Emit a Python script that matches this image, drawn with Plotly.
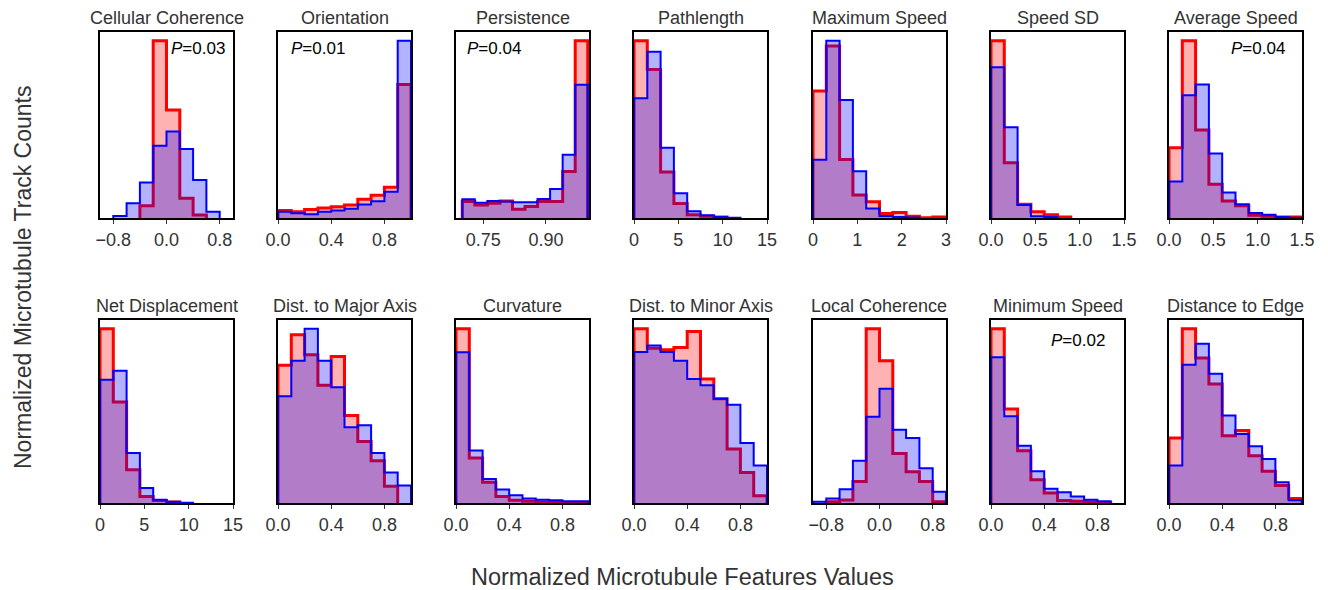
import plotly.graph_objects as go

# ---------------- data ----------------
TITLES = ["Cellular Coherence", "Orientation", "Persistence", "Pathlength",
          "Maximum Speed", "Speed SD", "Average Speed",
          "Net Displacement", "Dist. to Major Axis", "Curvature",
          "Dist. to Minor Axis", "Local Coherence", "Minimum Speed",
          "Distance to Edge"]

BIN_LO = [-1.0, 0.0, 0.70, 0.0, 0.0, 0.0, 0.0,
          0.0, 0.0, 0.0, 0.0, -1.0, 0.0, 0.0]
BIN_WIDTH = [0.2, 0.1, 0.03, 1.5, 0.3, 0.15, 0.15,
             1.5, 0.1, 0.1, 0.1, 0.2, 0.1, 0.1]
X_RANGE = [[-1, 1], [0, 1], [0.685, 1.003], [0, 15], [0, 3], [0, 1.5], [0, 1.5],
           [0, 15], [0, 1], [0, 1], [0, 1], [-1, 1], [0, 1], [0, 1]]
TICK_VALS = [[-0.8, 0, 0.8], [0, 0.4, 0.8], [0.75, 0.90], [0, 5, 10, 15],
             [0, 1, 2, 3], [0, 0.5, 1.0, 1.5], [0, 0.5, 1.0, 1.5],
             [0, 5, 10, 15], [0, 0.4, 0.8], [0, 0.4, 0.8], [0, 0.4, 0.8],
             [-0.8, 0, 0.8], [0, 0.4, 0.8], [0, 0.4, 0.8]]
TICK_TEXT = [["\u22120.8", "0.0", "0.8"], ["0.0", "0.4", "0.8"], ["0.75", "0.90"],
             ["0", "5", "10", "15"], ["0", "1", "2", "3"],
             ["0.0", "0.5", "1.0", "1.5"], ["0.0", "0.5", "1.0", "1.5"],
             ["0", "5", "10", "15"], ["0.0", "0.4", "0.8"], ["0.0", "0.4", "0.8"],
             ["0.0", "0.4", "0.8"], ["\u22120.8", "0.0", "0.8"],
             ["0.0", "0.4", "0.8"], ["0.0", "0.4", "0.8"]]

red_cellular_coherence = [0, 0, 0, 0.065, 0.949, 0.578, 0.106, 0.016, 0, 0]
blue_cellular_coherence = [0, 0.011, 0.079, 0.19, 0.387, 0.464, 0.369, 0.204, 0.034, 0]
red_orientation = [0.04, 0.033, 0.045, 0.053, 0.06, 0.07, 0.1, 0.122, 0.165, 0.715]
blue_orientation = [0.033, 0.025, 0.02, 0.033, 0.04, 0.05, 0.072, 0.09, 0.14, 0.949]
red_persistence = [0.088, 0.07, 0.079, 0.091, 0.047, 0.061, 0.088, 0.088, 0.249, 0.949]
blue_persistence = [0.1, 0.082, 0.091, 0.088, 0.084, 0.084, 0.102, 0.156, 0.339, 0.714]
red_pathlength = [0.949, 0.795, 0.247, 0.078, 0.018, 0.009, 0.005, 0, 0, 0]
blue_pathlength = [0.641, 0.891, 0.377, 0.132, 0.036, 0.015, 0.006, 0.002, 0, 0]
red_max_speed = [0.68, 0.922, 0.314, 0.123, 0.087, 0.024, 0.029, 0.009, 0.002, 0.005]
blue_max_speed = [0.312, 0.949, 0.632, 0.25, 0.051, 0.011, 0.005, 0.003, 0, 0]
red_speed_sd = [0.949, 0.296, 0.073, 0.033, 0.018, 0.005, 0, 0, 0, 0]
blue_speed_sd = [0.808, 0.486, 0.069, 0.009, 0.005, 0, 0, 0, 0, 0]
red_avg_speed = [0.377, 0.949, 0.472, 0.181, 0.091, 0.065, 0.015, 0.009, 0.005, 0.005]
blue_avg_speed = [0.196, 0.658, 0.715, 0.345, 0.136, 0.074, 0.027, 0.018, 0.006, 0.002]
red_net_disp = [0.951, 0.551, 0.182, 0.036, 0.013, 0.005, 0, 0, 0, 0]
blue_net_disp = [0.673, 0.722, 0.273, 0.082, 0.018, 0.007, 0.002, 0, 0, 0]
red_major_axis = [0.751, 0.918, 0.809, 0.642, 0.8, 0.478, 0.336, 0.231, 0.091, 0]
blue_major_axis = [0.582, 0.776, 0.951, 0.776, 0.631, 0.413, 0.424, 0.273, 0.167, 0.095]
red_curvature = [0.951, 0.245, 0.113, 0.036, 0.015, 0.009, 0.005, 0.004, 0.002, 0.001]
blue_curvature = [0.822, 0.287, 0.131, 0.073, 0.042, 0.025, 0.018, 0.015, 0.009, 0.009]
red_minor_axis = [0.951, 0.845, 0.836, 0.849, 0.936, 0.676, 0.569, 0.295, 0.167, 0.04]
blue_minor_axis = [0.824, 0.86, 0.824, 0.776, 0.676, 0.642, 0.569, 0.536, 0.327, 0.205]
red_local_coh = [0, 0.007, 0.016, 0.117, 0.951, 0.776, 0.27, 0.171, 0.117, 0.007]
blue_local_coh = [0.007, 0.025, 0.075, 0.23, 0.47, 0.623, 0.40, 0.354, 0.19, 0.062]
red_min_speed = [0.951, 0.513, 0.285, 0.127, 0.055, 0.013, 0.009, 0.005, 0.002, 0]
blue_min_speed = [0.795, 0.473, 0.313, 0.173, 0.078, 0.058, 0.036, 0.018, 0.009, 0]
red_dist_edge = [0.355, 0.951, 0.791, 0.649, 0.367, 0.395, 0.258, 0.173, 0.095, 0.024]
blue_dist_edge = [0.204, 0.755, 0.869, 0.705, 0.478, 0.376, 0.309, 0.24, 0.113, 0.015]

RED = [red_cellular_coherence, red_orientation, red_persistence, red_pathlength,
       red_max_speed, red_speed_sd, red_avg_speed, red_net_disp, red_major_axis,
       red_curvature, red_minor_axis, red_local_coh, red_min_speed, red_dist_edge]
BLUE = [blue_cellular_coherence, blue_orientation, blue_persistence, blue_pathlength,
        blue_max_speed, blue_speed_sd, blue_avg_speed, blue_net_disp, blue_major_axis,
        blue_curvature, blue_minor_axis, blue_local_coh, blue_min_speed, blue_dist_edge]

P_TEXT = {0: "0.03", 1: "0.01", 2: "0.04", 6: "0.04", 12: "0.02"}

# ---------------- layout constants ----------------
W, H = 1328, 590
PANEL_LEFT = [100, 278, 456, 634, 813, 991, 1169]
PANEL_W = 133
ROW_TOP = [32, 320]
ROW_BOT = [218, 503]
# P-label placement (x in axis-domain fraction, anchor, y domain)
P_POS = {0: (0.955, "right", 0.91), 1: (0.08, "left", 0.91), 2: (0.07, "left", 0.91),
         6: (0.885, "right", 0.91), 12: (0.87, "right", 0.887)}

FONT = "Liberation Sans, Arial, Helvetica, sans-serif"
TXT = "#333333"


def step_outline(lo, w, h):
    nz = [j for j, v in enumerate(h) if v > 0]
    a, b = nz[0], nz[-1]
    xs, ys = [lo + a * w], [0]
    for j in range(a, b + 1):
        xs += [lo + j * w, lo + (j + 1) * w]
        ys += [h[j], h[j]]
    xs.append(lo + (b + 1) * w)
    ys.append(0)
    return xs, ys


fig = go.Figure()
annotations = []
layout = {}
for i in range(14):
    r, c = divmod(i, 7)
    k = i + 1
    xa = "x" if k == 1 else f"x{k}"
    ya = "y" if k == 1 else f"y{k}"
    for h, lc, fc, lw in ((RED[i], "#ff0000", "rgba(255,0,0,0.3)", 3),
                          (BLUE[i], "#0000ff", "rgba(0,0,255,0.3)", 2)):
        xs, ys = step_outline(BIN_LO[i], BIN_WIDTH[i], h)
        fig.add_trace(go.Scatter(x=xs, y=ys, mode="lines", fill="toself",
                                 fillcolor=fc, line=dict(color=lc, width=lw),
                                 xaxis=xa, yaxis=ya, showlegend=False,
                                 hoverinfo="skip"))
    x0 = PANEL_LEFT[c] / W
    x1 = (PANEL_LEFT[c] + PANEL_W) / W
    y0 = 1 - ROW_BOT[r] / H
    y1 = 1 - ROW_TOP[r] / H
    ymax = 1.05 * max(max(RED[i]), max(BLUE[i]))
    layout[f"xaxis{k}"] = dict(domain=[x0, x1], anchor=ya, range=X_RANGE[i],
                               tickvals=TICK_VALS[i], ticktext=TICK_TEXT[i],
                               ticks="outside", ticklen=4, tickwidth=1,
                               tickcolor="#333333", automargin=False,
                               showline=True, mirror=True, linewidth=2,
                               linecolor="black", showgrid=False, zeroline=False,
                               tickfont=dict(family=FONT, size=18, color=TXT))
    layout[f"yaxis{k}"] = dict(domain=[y0, y1], anchor=xa, range=[0, ymax],
                               showticklabels=False, ticks="", automargin=False,
                               showline=True, mirror=True, linewidth=2,
                               linecolor="black", showgrid=False, zeroline=False)
    annotations.append(dict(text=TITLES[i], xref=f"{xa} domain", yref=f"{ya} domain",
                            x=0.5, y=1, xanchor="center", yanchor="bottom",
                            yshift=2, showarrow=False,
                            font=dict(family=FONT, size=18, color=TXT)))
    if i in P_TEXT:
        px, pa, py = P_POS[i]
        annotations.append(dict(text=f"<i>P</i>={P_TEXT[i]}", xref=f"{xa} domain",
                                yref=f"{ya} domain", x=px, y=py, xanchor=pa,
                                yanchor="middle", showarrow=False,
                                font=dict(family=FONT, size=17, color="black")))

annotations.append(dict(text="Normalized Microtubule Features Values", xref="paper",
                        yref="paper", x=683 / W, y=1 - 577 / H, xanchor="center",
                        yanchor="middle", showarrow=False,
                        font=dict(family=FONT, size=23.5, color=TXT)))
annotations.append(dict(text="Normalized Microtubule Track Counts", xref="paper",
                        yref="paper", x=23 / W, y=1 - 278 / H, xanchor="center",
                        yanchor="middle", textangle=-90, showarrow=False,
                        font=dict(family=FONT, size=23, color=TXT)))

fig.update_layout(width=W, height=H,
                  margin=dict(l=0, r=0, t=0, b=0, pad=0, autoexpand=False),
                  paper_bgcolor="white", plot_bgcolor="white",
                  annotations=annotations, **layout)
fig.write_html("out.html")
